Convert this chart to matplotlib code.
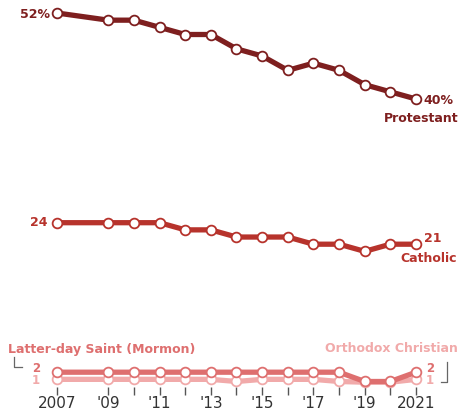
import matplotlib
matplotlib.use("Agg")
import matplotlib.pyplot as plt

# data
years = [2007, 2009, 2010, 2011, 2012, 2013, 2014, 2015, 2016, 2017, 2018, 2019, 2020, 2021]
protestant = [52, 51, 51, 50, 49, 49, 47, 46, 44, 45, 44, 42, 41, 40]
catholic = [24, 24, 24, 24, 23, 23, 22, 22, 22, 21, 21, 20, 21, 21]
mormon = [2, 2, 2, 2, 2, 2, 2, 2, 2, 2, 2, 0.7, 0.7, 2]
orthodox = [1, 1, 1, 1, 1, 1, 0.7, 1, 1, 1, 0.7, 0.6, 0.6, 1]
tick_labels = {2007: "2007", 2009: "'09", 2011: "'11", 2013: "'13",
               2015: "'15", 2017: "'17", 2019: "'19", 2021: "2021"}

c_prot = "#7e1f1f"
c_cath = "#b7332c"
c_morm = "#de6f6f"
c_orth = "#f1aaaa"

W, H = 460, 418
fig = plt.figure(figsize=(W / 100, H / 100), dpi=100)
fig.patch.set_facecolor("white")


def fx(px):
    return px / W


def fy(py):
    return 1 - py / H


left, right = 57, 416


def panel(top_px, bottom_px, ylo, yhi):
    # one stacked panel, placed in pixels
    a = fig.add_axes([fx(left), fy(bottom_px), fx(right - left), fy(top_px) - fy(bottom_px)])
    a.set_xlim(2007, 2021)
    a.set_ylim(ylo, yhi)
    a.patch.set_alpha(0)
    for s in a.spines.values():
        s.set_visible(False)
    a.set_yticks([])
    a.set_xticks([])
    return a


def draw(a, vals, col):
    a.plot(years, vals, color=col, lw=3.8, marker="o", ms=7, mfc="white",
           mec=col, mew=1.3, clip_on=False, solid_capstyle="round", zorder=3)


ax_p = panel(13, 99, 40, 52)
draw(ax_p, protestant, c_prot)

ax_c = panel(222.7, 244.2, 21, 24)
draw(ax_c, catholic, c_cath)

ax_s = panel(372.2, 386.5, 0, 2)
draw(ax_s, orthodox, c_orth)
draw(ax_s, mormon, c_morm)
ax_s.set_xticks(years)
ax_s.set_xticklabels([tick_labels.get(y, "") for y in years])
ax_s.tick_params(axis="x", length=6, width=1, color="#555555", pad=1,
                 labelsize=11, labelcolor="#333333")

txt = dict(fontweight="bold", fontsize=9, va="center")
fig.text(fx(50), fy(14), "52%", color=c_prot, ha="right", **txt)
fig.text(fx(423), fy(101), "40%", color=c_prot, ha="left", **txt)
fig.text(fx(459), fy(119), "Protestant", color=c_prot, ha="right", **txt)
fig.text(fx(48), fy(222), "24", color=c_cath, ha="right", **txt)
fig.text(fx(424), fy(238), "21", color=c_cath, ha="left", **txt)
fig.text(fx(457), fy(259), "Catholic", color=c_cath, ha="right", **txt)
fig.text(fx(8), fy(349), "Latter-day Saint (Mormon)", color=c_morm, ha="left", **txt)
fig.text(fx(458), fy(349), "Orthodox Christian", color=c_orth, ha="right", **txt)
small = dict(fontweight="bold", fontsize=8.5, va="center")
fig.text(fx(40), fy(368), "2", color=c_morm, ha="right", **small)
fig.text(fx(40), fy(381), "1", color=c_orth, ha="right", **small)
fig.text(fx(426), fy(368), "2", color=c_morm, ha="left", **small)
fig.text(fx(426), fy(381), "1", color=c_orth, ha="left", **small)

# bracket marks next to the small-group labels
fig.add_artist(plt.Line2D([fx(14), fx(14), fx(22)], [fy(357), fy(367), fy(367)],
                          color="#666666", lw=0.9))
fig.add_artist(plt.Line2D([fx(441), fx(447), fx(447)], [fy(382), fy(382), fy(362)],
                          color="#666666", lw=0.9))

fig.savefig("out.png", dpi=100, facecolor="white")
